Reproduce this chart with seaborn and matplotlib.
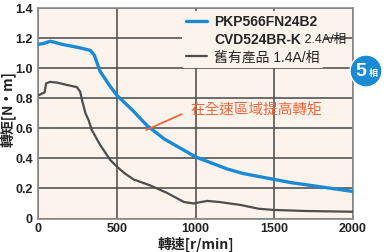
import matplotlib
matplotlib.use("Agg")
import matplotlib.pyplot as plt
from matplotlib.lines import Line2D
from matplotlib.patches import Ellipse
from matplotlib import font_manager
import seaborn as sns
import pandas as pd

# ---- data ----
new_rpm = [0, 30, 75, 100, 150, 250, 330, 355, 393, 450, 500, 600, 690, 800, 900, 1000,
           1100, 1200, 1300, 1400, 1500, 1600, 1700, 1800, 1900, 2000]
new_torque = [1.16, 1.165, 1.18, 1.175, 1.16, 1.14, 1.12, 1.09, 0.98, 0.89, 0.82, 0.72, 0.62,
              0.53, 0.47, 0.41, 0.37, 0.33, 0.30, 0.28, 0.26, 0.24, 0.225, 0.21, 0.195, 0.18]
old_rpm = [0, 20, 40, 50, 75, 120, 180, 245, 266, 280, 300, 319, 340, 393, 457, 500, 550,
           606, 712, 819, 925, 988, 1010, 1074, 1150, 1286, 1400, 1497, 1700, 2000]
old_torque = [0.82, 0.83, 0.84, 0.90, 0.91, 0.905, 0.89, 0.875, 0.845, 0.78, 0.70, 0.657,
              0.59, 0.49, 0.39, 0.345, 0.30, 0.26, 0.22, 0.17, 0.11, 0.10, 0.105, 0.117,
              0.11, 0.09, 0.065, 0.057, 0.05, 0.045]
x_ticks = [0, 500, 1000, 1500, 2000]
y_ticks = [0, 0.2, 0.4, 0.6, 0.8, 1.0, 1.2, 1.4]
y_tick_labels = ["0", "0.2", "0.4", "0.6", "0.8", "1.0", "1.2", "1.4"]
legend_labels = ["PKP566FN24B2", "CVD524BR-K", "舊有產品 1.4A/相"]
legend_suffix = " 2.4A/相"
annotation_text = "在全速區域提高轉矩"
x_label = "轉速[r/min]"
y_label = "轉矩[N・m]"
badge_num = "5"
badge_unit = "相"

BLUE = "#1a8ad4"
GRAY = "#4d4d4d"
ORANGE = "#f0663a"
BG = "#fdf3ed"

sns.set_theme(style="white")
CJK = ["Liberation Sans", "Noto Sans CJK TC", "DejaVu Sans"]
plt.rcParams["font.family"] = CJK

try:
    font_manager.findfont(font_manager.FontProperties(family="Liberation Sans Narrow"),
                          fallback_to_default=False)
    TICK_FAM = ["Liberation Sans Narrow"]
    TICK_SIZE = 10
except Exception:
    TICK_FAM = ["Liberation Sans"]
    TICK_SIZE = 9

fig = plt.figure(figsize=(3.9, 2.52), dpi=100)
ax = fig.add_axes([38.3 / 390, 1 - 218.5 / 252, (353 - 38.3) / 390, (218.5 - 8.3) / 252])
ax.set_facecolor(BG)

df_new = pd.DataFrame({"rpm": new_rpm, "torque": new_torque})
df_old = pd.DataFrame({"rpm": old_rpm, "torque": old_torque})
sns.lineplot(data=df_old, x="rpm", y="torque", color=GRAY, lw=1.6, ax=ax, zorder=3)
sns.lineplot(data=df_new, x="rpm", y="torque", color=BLUE, lw=2.4, ax=ax, zorder=4)

ax.set_xlim(0, 2000)
ax.set_ylim(0, 1.4)
ax.set_xticks(x_ticks)
ax.set_yticks(y_ticks)
ax.set_yticklabels(y_tick_labels)
ax.grid(True, color="#555555", lw=1.2, zorder=1)
ax.set_axisbelow(True)
for s in ax.spines.values():
    s.set_color("#8a8a8a")
    s.set_linewidth(1.2)
ax.tick_params(axis="x", length=0, pad=3, labelsize=TICK_SIZE, colors="#222222")
ax.tick_params(axis="y", length=0, pad=4, labelsize=TICK_SIZE, colors="#222222")
for lab in ax.get_xticklabels() + ax.get_yticklabels():
    lab.set_family(TICK_FAM)
    lab.set_fontweight("bold")

ax.set_xlabel(x_label, fontsize=10, fontweight="bold", color="#222222",
              family=["Noto Sans CJK TC"], va="center")
ax.set_ylabel(y_label, fontsize=10, fontweight="bold", color="#222222",
              family=["Noto Sans CJK TC"], va="center")
ax.xaxis.set_label_coords(0.5, (218.5 - 244.5) / 210)
ax.yaxis.set_label_coords((8 - 38.3) / 314.7, 0.52)

handles = [Line2D([], [], color=BLUE, lw=2.4),
           Line2D([], [], color="none", lw=0),
           Line2D([], [], color=GRAY, lw=1.6)]
leg = ax.legend(handles, legend_labels, loc="upper left", bbox_to_anchor=(0.435, 1.02),
                frameon=True, facecolor=BG, edgecolor="none", framealpha=1,
                handlelength=1.5, handletextpad=0.5, labelspacing=0.25, borderpad=0.3,
                fontsize=10)
leg.set_zorder(5)
texts = leg.get_texts()
texts[0].set_fontweight("bold")
texts[1].set_fontweight("bold")
texts[2].set_family(["Liberation Sans", "Noto Sans CJK TC"])
ax.annotate(legend_suffix, xy=(1, 0.5), xycoords=texts[1], va="center", ha="left",
            fontsize=9, color="#222222", family=CJK, zorder=6)

ax.annotate(annotation_text, xy=(687, 0.59), xytext=(965, 0.72),
            color=ORANGE, fontsize=10.5, va="center", ha="left",
            family=["Noto Sans CJK TC"],
            arrowprops=dict(arrowstyle="-", color=ORANGE, lw=1.3, shrinkA=4, shrinkB=0,
                            relpos=(0, 0.5)), zorder=6)

# badge
fig.patches.append(Ellipse((366 / 390, 1 - 71 / 252), 32 / 390, 32 / 252,
                           transform=fig.transFigure, facecolor=BLUE, edgecolor="white",
                           lw=1, zorder=10))
fig.text(361 / 390, 1 - 71 / 252, badge_num, color="white", fontsize=14, fontweight="bold",
         ha="center", va="center", zorder=11, family=["Liberation Sans"])
fig.text(373 / 390, 1 - 73 / 252, badge_unit, color="white", fontsize=6.5, fontweight="bold",
         ha="center", va="center", zorder=11, family=["Noto Sans CJK TC"])

fig.savefig("out.png", dpi=100, facecolor="white")
